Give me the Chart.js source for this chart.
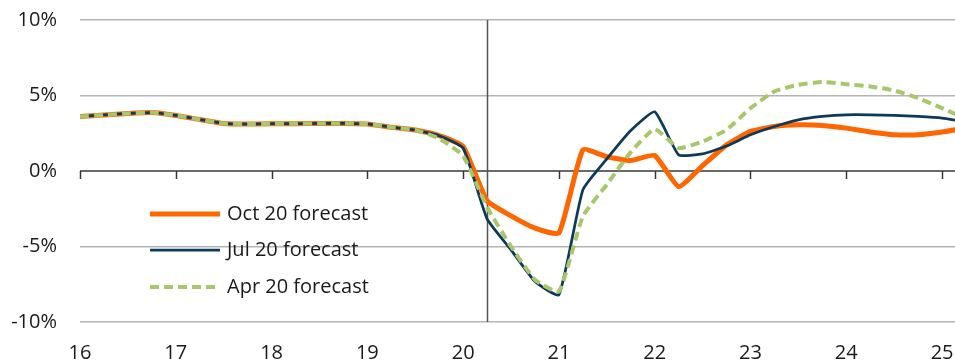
<!DOCTYPE html>
<html>
<head>
<meta charset="utf-8">
<script src="https://cdn.jsdelivr.net/npm/chart.js@4.4.1/dist/chart.umd.min.js"></script>
<style>
  html, body { margin: 0; padding: 0; background: #ffffff; }
  #wrap { width: 955px; height: 362px; position: relative; }
</style>
</head>
<body>
<div id="wrap"><canvas id="chart"></canvas></div>
<script>
// Quarterly periods, expressed as fractional years (16 = 2016 Q1)
const quarters = [
  16.00, 16.25, 16.50, 16.75, 17.00, 17.25, 17.50, 17.75,
  18.00, 18.25, 18.50, 18.75, 19.00, 19.25, 19.50, 19.75,
  20.00, 20.25, 20.50, 20.75, 21.00, 21.25, 21.50, 21.75,
  22.00, 22.25, 22.50, 22.75, 23.00, 23.25, 23.50, 23.75,
  24.00, 24.25, 24.50, 24.75, 25.00, 25.25
];

// GDP growth, % y/y, by forecast vintage
const oct20 = [
  3.61, 3.71, 3.81, 3.87, 3.68, 3.41, 3.15, 3.11,
  3.13, 3.13, 3.15, 3.15, 3.12, 2.90, 2.71, 2.34,
  1.62, -1.97, -2.97, -3.78, -4.11, 1.40, 0.94, 0.70,
  1.03, -1.03, 0.35, 1.73, 2.62, 2.95, 3.06, 3.02,
  2.84, 2.58, 2.40, 2.40, 2.58, 2.85
];
const jul20 = [
  3.61, 3.71, 3.81, 3.87, 3.68, 3.41, 3.15, 3.11,
  3.13, 3.13, 3.15, 3.15, 3.12, 2.90, 2.71, 2.34,
  1.52, -3.17, -5.22, -7.32, -8.20, -1.25, 0.80, 2.68,
  3.92, 1.07, 1.14, 1.65, 2.40, 2.95, 3.39, 3.61,
  3.72, 3.72, 3.68, 3.61, 3.50, 3.25
];
const apr20 = [
  3.61, 3.71, 3.81, 3.87, 3.68, 3.41, 3.15, 3.11,
  3.13, 3.13, 3.15, 3.15, 3.12, 2.90, 2.71, 2.15,
  1.00, -2.40, -5.00, -7.20, -7.98, -3.00, -0.90, 1.25,
  2.77, 1.52, 1.95, 2.73, 4.16, 5.27, 5.71, 5.89,
  5.75, 5.60, 5.33, 4.83, 4.16, 3.45
];

const seriesNames = ['Oct 20 forecast', 'Jul 20 forecast', 'Apr 20 forecast'];

// Year ticks on the horizontal axis
const yearTicks = [16, 17, 18, 19, 20, 21, 22, 23, 24, 25];
const yearLabels = ['16', '17', '18', '19', '20', '21', '22', '23', '24', '25'];

// Value axis ticks
const valueTicks = [-10, -5, 0, 5, 10];

// Quarter at which the vertical divider is drawn
const dividerAt = 20.25;

const FONT = "'Open Sans', 'Liberation Sans', sans-serif";
const TEXT = '#1a1a1a';

function toPoints(values) {
  return values.map((v, i) => ({ x: quarters[i], y: v }));
}

// Zero line with downward year ticks, plus the vertical divider
const axisDecor = {
  id: 'axisDecor',
  beforeDatasetsDraw(chart) {
    const { ctx, chartArea, scales } = chart;
    const x = scales.x, y = scales.y;
    const y0 = y.getPixelForValue(0);
    ctx.save();
    ctx.strokeStyle = '#3a3a3a';
    ctx.lineWidth = 1.5;
    ctx.beginPath();
    ctx.moveTo(chartArea.left, y0);
    ctx.lineTo(chartArea.right, y0);
    yearTicks.forEach(t => {
      const px = Math.round(x.getPixelForValue(t)) + 0.5;
      ctx.moveTo(px, y0);
      ctx.lineTo(px, y0 + 8);
    });
    ctx.stroke();

    const dx = Math.round(x.getPixelForValue(dividerAt)) + 0.5;
    ctx.strokeStyle = '#555555';
    ctx.lineWidth = 1.5;
    ctx.beginPath();
    ctx.moveTo(dx, chartArea.top);
    ctx.lineTo(dx, chartArea.bottom);
    ctx.stroke();
    ctx.restore();
  }
};

// Legend drawn inside the plot area
const innerLegend = {
  id: 'innerLegend',
  afterDraw(chart, args, opts) {
    const { ctx } = chart;
    ctx.save();
    ctx.font = '20px ' + FONT;
    ctx.textBaseline = 'middle';
    ctx.fillStyle = TEXT;
    opts.rows.forEach((rowY, i) => {
      const ds = chart.data.datasets[i];
      ctx.strokeStyle = ds.borderColor;
      ctx.lineWidth = ds.borderWidth;
      ctx.setLineDash(ds.borderDash || []);
      ctx.lineCap = 'butt';
      ctx.beginPath();
      ctx.moveTo(opts.lineStart, rowY);
      ctx.lineTo(opts.lineEnd, rowY);
      ctx.stroke();
      ctx.setLineDash([]);
      ctx.fillText(ds.label, opts.textX, rowY);
    });
    ctx.restore();
  }
};

new Chart(document.getElementById('chart'), {
  type: 'line',
  data: {
    datasets: [
      {
        label: seriesNames[0],
        data: toPoints(oct20),
        borderColor: '#ff6600',
        borderWidth: 5,
        order: 3
      },
      {
        label: seriesNames[1],
        data: toPoints(jul20),
        borderColor: '#0d3a58',
        borderWidth: 2.75,
        order: 2
      },
      {
        label: seriesNames[2],
        data: toPoints(apr20),
        borderColor: '#a8c66c',
        borderWidth: 4,
        borderDash: [9, 5],
        order: 1
      }
    ]
  },
  options: {
    responsive: true,
    maintainAspectRatio: false,
    animation: false,
    layout: { padding: { top: 20, right: 0, bottom: 0, left: 0 } },
    elements: {
      point: { radius: 0, hoverRadius: 0 },
      line: { tension: 0.15, fill: false, borderJoinStyle: 'round' }
    },
    plugins: {
      legend: { display: false },
      tooltip: { enabled: false },
      innerLegend: { rows: [214, 250, 287], lineStart: 150, lineEnd: 220, textX: 227 }
    },
    scales: {
      x: {
        type: 'linear',
        min: 16,
        max: 25.135,
        grid: { display: false, drawTicks: false },
        border: { display: false },
        afterBuildTicks(scale) { scale.ticks = yearTicks.map(v => ({ value: v })); },
        afterFit(scale) {
          scale.height = 40;
          scale.paddingLeft = 0;
          scale.paddingRight = 0;
        },
        ticks: {
          padding: 19,
          maxRotation: 0,
          autoSkip: false,
          color: TEXT,
          font: { family: FONT, size: 20 },
          callback(value) {
            const i = yearTicks.indexOf(value);
            return i >= 0 ? yearLabels[i] : '';
          }
        }
      },
      y: {
        min: -10,
        max: 10,
        afterBuildTicks(scale) { scale.ticks = valueTicks.map(v => ({ value: v })); },
        afterFit(scale) {
          scale.width = 80;
          scale.paddingTop = 0;
          scale.paddingBottom = 0;
        },
        grid: {
          drawTicks: false,
          lineWidth: 1.5,
          color(ctx) { return ctx.tick && ctx.tick.value === 0 ? 'rgba(0,0,0,0)' : '#b4b4b4'; }
        },
        border: { display: false },
        ticks: {
          padding: 23,
          color: TEXT,
          font: { family: FONT, size: 20 },
          callback(value) { return value + '%'; }
        }
      }
    }
  },
  plugins: [axisDecor, innerLegend]
});
</script>
</body>
</html>
